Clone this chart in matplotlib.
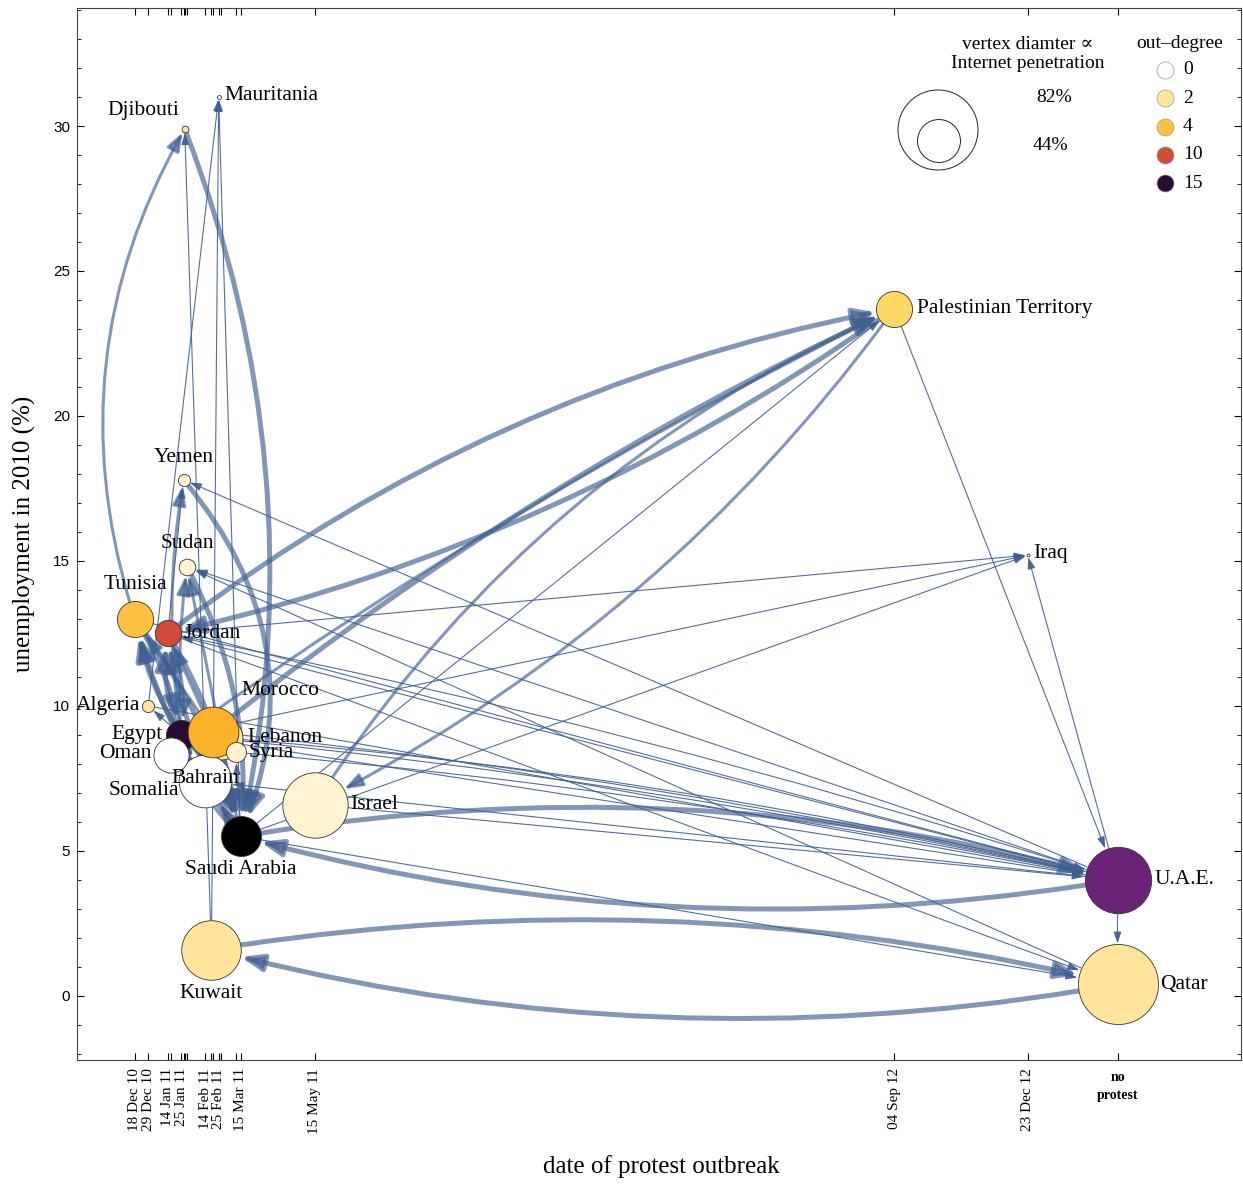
import numpy as np
import matplotlib.pyplot as plt
from matplotlib.patches import FancyArrowPatch
from matplotlib.colors import LinearSegmentedColormap

# nodes
countries = ['Tunisia', 'Algeria', 'Jordan', 'Oman', 'Egypt', 'Yemen', 'Djibouti', 'Sudan',
             'Somalia', 'Bahrain', 'Kuwait', 'Morocco', 'Mauritania', 'Lebanon', 'Syria',
             'Saudi Arabia', 'Israel', 'Palestinian Territory', 'Iraq', 'U.A.E.', 'Qatar']
outbreak = ['2010-12-18', '2010-12-29', '2011-01-14', '2011-01-17', '2011-01-25', '2011-01-27',
            '2011-01-28', '2011-01-30', '2011-01-28', '2011-02-14', '2011-02-19', '2011-02-20',
            '2011-02-25', '2011-02-27', '2011-03-11', '2011-03-15', '2011-05-15', '2012-09-04',
            '2012-12-23', None, None]
unemployment = [13.0, 10.0, 12.5, 8.3, 9.0, 17.8, 29.9, 14.8, 7.1, 7.4, 1.6, 9.1, 31.0,
                8.9, 8.4, 5.5, 6.6, 23.7, 15.2, 4.0, 0.4]
internet = [37, 12.5, 27, 36, 31, 12.5, 7, 17, 1, 54, 61, 52, 4, 44, 20.5, 41, 67, 37, 3, 68, 82]
out_degree = [4, 2, 10, 0, 15, 1, 2, 1, 0, 0, 2, 5, 0, 2, 1, 18, 1, 3, 0, 12, 2]

# edges (source, target, strength 1..3)
edges = [
    ('Qatar', 'Kuwait', 3), ('Kuwait', 'Qatar', 3),
    ('U.A.E.', 'Saudi Arabia', 3), ('Saudi Arabia', 'U.A.E.', 3),
    ('Jordan', 'Palestinian Territory', 3), ('Palestinian Territory', 'Jordan', 3),
    ('Morocco', 'Palestinian Territory', 3), ('Israel', 'Palestinian Territory', 2),
    ('Palestinian Territory', 'Israel', 2), ('Egypt', 'Palestinian Territory', 2),
    ('Saudi Arabia', 'Palestinian Territory', 1), ('Palestinian Territory', 'U.A.E.', 1),
    ('U.A.E.', 'Iraq', 1), ('Jordan', 'Iraq', 1), ('Egypt', 'Iraq', 1), ('Saudi Arabia', 'Iraq', 1),
    ('U.A.E.', 'Yemen', 1), ('U.A.E.', 'Sudan', 1), ('Qatar', 'Sudan', 1),
    ('Jordan', 'U.A.E.', 1), ('Egypt', 'U.A.E.', 1), ('Tunisia', 'U.A.E.', 1),
    ('Morocco', 'U.A.E.', 1), ('Lebanon', 'U.A.E.', 1), ('Syria', 'U.A.E.', 1),
    ('Algeria', 'U.A.E.', 1), ('Israel', 'U.A.E.', 1),
    ('Jordan', 'Qatar', 1), ('Saudi Arabia', 'Qatar', 1), ('U.A.E.', 'Qatar', 1),
    ('U.A.E.', 'Egypt', 1), ('U.A.E.', 'Jordan', 1), ('U.A.E.', 'Bahrain', 1),
    ('Tunisia', 'Djibouti', 2), ('Djibouti', 'Saudi Arabia', 3),
    ('Kuwait', 'Djibouti', 1), ('Kuwait', 'Mauritania', 1), ('Algeria', 'Mauritania', 1),
    ('Saudi Arabia', 'Mauritania', 1),
    ('Yemen', 'Saudi Arabia', 3), ('Sudan', 'Saudi Arabia', 3),
    ('Egypt', 'Yemen', 2), ('Jordan', 'Yemen', 1), ('Egypt', 'Sudan', 2), ('Saudi Arabia', 'Sudan', 2),
    ('Egypt', 'Tunisia', 3), ('Tunisia', 'Egypt', 3), ('Saudi Arabia', 'Tunisia', 3),
    ('Tunisia', 'Saudi Arabia', 3), ('Jordan', 'Saudi Arabia', 3), ('Saudi Arabia', 'Jordan', 3),
    ('Egypt', 'Jordan', 3), ('Jordan', 'Egypt', 2), ('Morocco', 'Tunisia', 2), ('Morocco', 'Jordan', 2),
    ('Egypt', 'Saudi Arabia', 3), ('Saudi Arabia', 'Egypt', 2),
    ('Egypt', 'Bahrain', 2), ('Egypt', 'Oman', 1), ('Egypt', 'Syria', 2), ('Egypt', 'Lebanon', 1),
    ('Egypt', 'Morocco', 2), ('Egypt', 'Algeria', 1),
    ('Saudi Arabia', 'Bahrain', 2), ('Saudi Arabia', 'Syria', 1),
]

# curvature of selected edges (arc3 rad), straight otherwise
bend = {
    ('Qatar', 'Kuwait'): -0.11, ('Kuwait', 'Qatar'): -0.10,
    ('U.A.E.', 'Saudi Arabia'): -0.11, ('Saudi Arabia', 'U.A.E.'): -0.11,
    ('Jordan', 'Palestinian Territory'): -0.12, ('Palestinian Territory', 'Jordan'): -0.10,
    ('Morocco', 'Palestinian Territory'): -0.06, ('Israel', 'Palestinian Territory'): -0.15,
    ('Palestinian Territory', 'Israel'): -0.12, ('Egypt', 'Palestinian Territory'): -0.04,
    ('Tunisia', 'Djibouti'): -0.22, ('Djibouti', 'Saudi Arabia'): -0.15,
    ('Yemen', 'Saudi Arabia'): -0.3, ('Sudan', 'Saudi Arabia'): -0.15,
    ('Egypt', 'Yemen'): -0.08, ('Egypt', 'Sudan'): -0.05,
    ('Egypt', 'Tunisia'): -0.1, ('Tunisia', 'Egypt'): -0.1,
    ('Saudi Arabia', 'Tunisia'): -0.1, ('Tunisia', 'Saudi Arabia'): -0.1,
    ('Jordan', 'Saudi Arabia'): -0.1, ('Saudi Arabia', 'Jordan'): -0.1,
    ('Egypt', 'Jordan'): -0.15, ('Jordan', 'Egypt'): -0.15,
    ('Egypt', 'Saudi Arabia'): -0.15, ('Saudi Arabia', 'Egypt'): -0.15,
    ('Jordan', 'U.A.E.'): -0.03, ('Egypt', 'U.A.E.'): -0.03, ('Morocco', 'U.A.E.'): -0.03,
    ('Lebanon', 'U.A.E.'): -0.04, ('Syria', 'U.A.E.'): -0.03,
}

# label placement: offset in points, horizontal alignment
label_off = {
    'Tunisia': (0, 25, 'center'), 'Algeria': (-6, 0, 'right'), 'Jordan': (11, 0, 'left'),
    'Oman': (-14, 1, 'right'), 'Egypt': (-13, 0, 'right'), 'Yemen': (0, 16, 'center'),
    'Djibouti': (-30, 13, 'center'), 'Sudan': (0, 17, 'center'), 'Somalia': (-4, 0, 'right'),
    'Bahrain': (0, 2, 'center'), 'Kuwait': (0, -32, 'center'), 'Morocco': (49, 30, 'center'),
    'Mauritania': (4, 1, 'left'), 'Lebanon': (19, 0, 'left'), 'Syria': (9, 0, 'left'),
    'Saudi Arabia': (0, -24, 'center'), 'Israel': (26, 0, 'left'),
    'Palestinian Territory': (16, 0, 'left'), 'Iraq': (4, 1, 'left'),
    'U.A.E.': (27, 0, 'left'), 'Qatar': (31, 0, 'left'),
}

tick_dates = ['2010-12-18', '2010-12-29', '2011-01-14', '2011-01-25', '2011-02-14',
              '2011-02-25', '2011-03-15', '2011-05-15', '2012-09-04', '2012-12-23']
tick_texts = ['18 Dec 10', '29 Dec 10', '14 Jan 11', '25 Jan 11', '14 Feb 11',
              '25 Feb 11', '15 Mar 11', '15 May 11', '04 Sep 12', '23 Dec 12']
legend_degrees = [0, 2, 4, 10, 15]
legend_pcts = [82, 44]

t0 = np.datetime64('2010-12-18')
NO_PROTEST = 810
def day(d):
    return NO_PROTEST if d is None else int((np.datetime64(d) - t0).astype(int))

xs = [day(d) for d in outbreak]
pos = {c: (x, y) for c, x, y in zip(countries, xs, unemployment)}

cmap = LinearSegmentedColormap.from_list('deg', [
    (0 / 18, '#ffffff'), (1 / 18, '#fff3d0'), (2 / 18, '#ffe59b'), (3 / 18, '#fed862'),
    (4 / 18, '#fdc13f'), (5 / 18, '#fcb12a'), (10 / 18, '#d24b37'), (12 / 18, '#6a2377'),
    (15 / 18, '#2b0b33'), (18 / 18, '#000000')])

def dpx(pct):  # diameter in points
    return 0.976 * pct * 0.72

serif = ['Liberation Serif', 'DejaVu Serif']
plt.rcParams['font.family'] = serif

fig = plt.figure(figsize=(12.43, 11.84), dpi=100)
ax = fig.add_axes([77 / 1243, 124 / 1184, 1164 / 1243, 1052 / 1184])
ax.set_xlim(-47.8, 911.8)
ax.set_ylim(-2.21, 34.07)

size = {c: dpx(p) for c, p in zip(countries, internet)}
lw_of = {1: 0.8, 2: 2.2, 3: 3.6}
hl_of = {1: 7, 2: 11, 3: 13}
hw_of = {1: 2.3, 2: 4, 3: 5}
for s, t, w in edges:
    rad = bend.get((s, t), 0.0)
    a = FancyArrowPatch(pos[s], pos[t], connectionstyle=f'arc3,rad={rad}',
                        arrowstyle=f'-|>,head_length={hl_of[w]},head_width={hw_of[w]}',
                        mutation_scale=1, lw=lw_of[w], color='#3f5f92',
                        alpha=0.9 if w == 1 else 0.65,
                        shrinkA=size[s] / 2, shrinkB=size[t] / 2 + 0.5, zorder=1)
    ax.add_patch(a)

draw_order = ['Somalia', 'Lebanon', 'Egypt', 'Bahrain', 'Oman', 'Morocco', 'Syria']
draw_order += [c for c in countries if c not in draw_order]
for k, c in enumerate(draw_order):
    i = countries.index(c)
    ax.scatter(xs[i], unemployment[i], s=size[c] ** 2, color=cmap(out_degree[i] / 18),
               edgecolors='#333333', linewidths=0.6, zorder=2 + k * 0.01)

for c in countries:
    dx, dy, ha = label_off[c]
    ax.annotate(c, pos[c], xytext=(dx, dy), textcoords='offset points', ha=ha, va='center',
                fontsize=15.5, zorder=5)

# axes
all_days = sorted(set(xs))
ax.set_xticks(all_days)
lab = {day(d): t for d, t in zip(tick_dates, tick_texts)}
ax.set_xticklabels([lab.get(d, '') for d in all_days], rotation=90, fontsize=11, va='top')
ax.text(NO_PROTEST, -0.025, 'no\nprotest', transform=ax.get_xaxis_transform(),
        ha='center', va='center', fontsize=10, fontweight='bold', linespacing=1.5)
ax.set_yticks(range(0, 31, 5))
ax.set_yticks(range(-2, 35), minor=True)
ax.tick_params(axis='both', which='both', direction='in', top=True, right=True)
ax.tick_params(axis='x', length=5, pad=6)
ax.tick_params(axis='y', which='major', length=5, pad=5, labelsize=11)
ax.tick_params(axis='y', which='minor', length=3)
for t in ax.get_yticklabels():
    t.set_family(['Liberation Sans', 'DejaVu Sans'])
for sp in ax.spines.values():
    sp.set_linewidth(0.8)
    sp.set_color('#444444')

ax.set_xlabel('date of protest outbreak', fontsize=18)
ax.set_ylabel('unemployment in 2010 (%)', fontsize=18)
ax.xaxis.set_label_coords(0.5017, -0.1008)
ax.yaxis.set_label_coords(-0.0455, 0.5)
ax.xaxis.label.set_va('center')
ax.yaxis.label.set_va('center')

# legend
def axf(px, py):
    return ((px - 77) / 1164, (1060 - py) / 1052)

ax.text(*axf(1028, 54), 'vertex diamter ∝\nInternet penetration', transform=ax.transAxes,
        ha='center', va='center', fontsize=14, linespacing=1.2)
for p, (cx, cy), (tx, ty) in zip(legend_pcts, [(938, 130), (939, 141)], [(1054, 98), (1050, 145)]):
    ax.scatter(*axf(cx, cy), s=dpx(p) ** 2, facecolors='none', edgecolors='#222222',
               linewidths=0.7, transform=ax.transAxes, clip_on=False, zorder=6)
    ax.text(*axf(tx, ty), f'{p}%', transform=ax.transAxes, ha='center', va='center', fontsize=14)

ax.text(*axf(1180, 44), 'out–degree', transform=ax.transAxes, ha='center', va='center', fontsize=14)
for k, dgr in enumerate(legend_degrees):
    yy = 70 + k * 28.3
    ax.scatter(*axf(1165, yy), s=(17 * 0.72) ** 2, color=cmap(dgr / 18), edgecolors='#999999',
               linewidths=0.5, transform=ax.transAxes, zorder=6)
    ax.text(*axf(1183, yy), str(dgr), transform=ax.transAxes, ha='left', va='center', fontsize=14)

fig.savefig('out.png', dpi=100)
